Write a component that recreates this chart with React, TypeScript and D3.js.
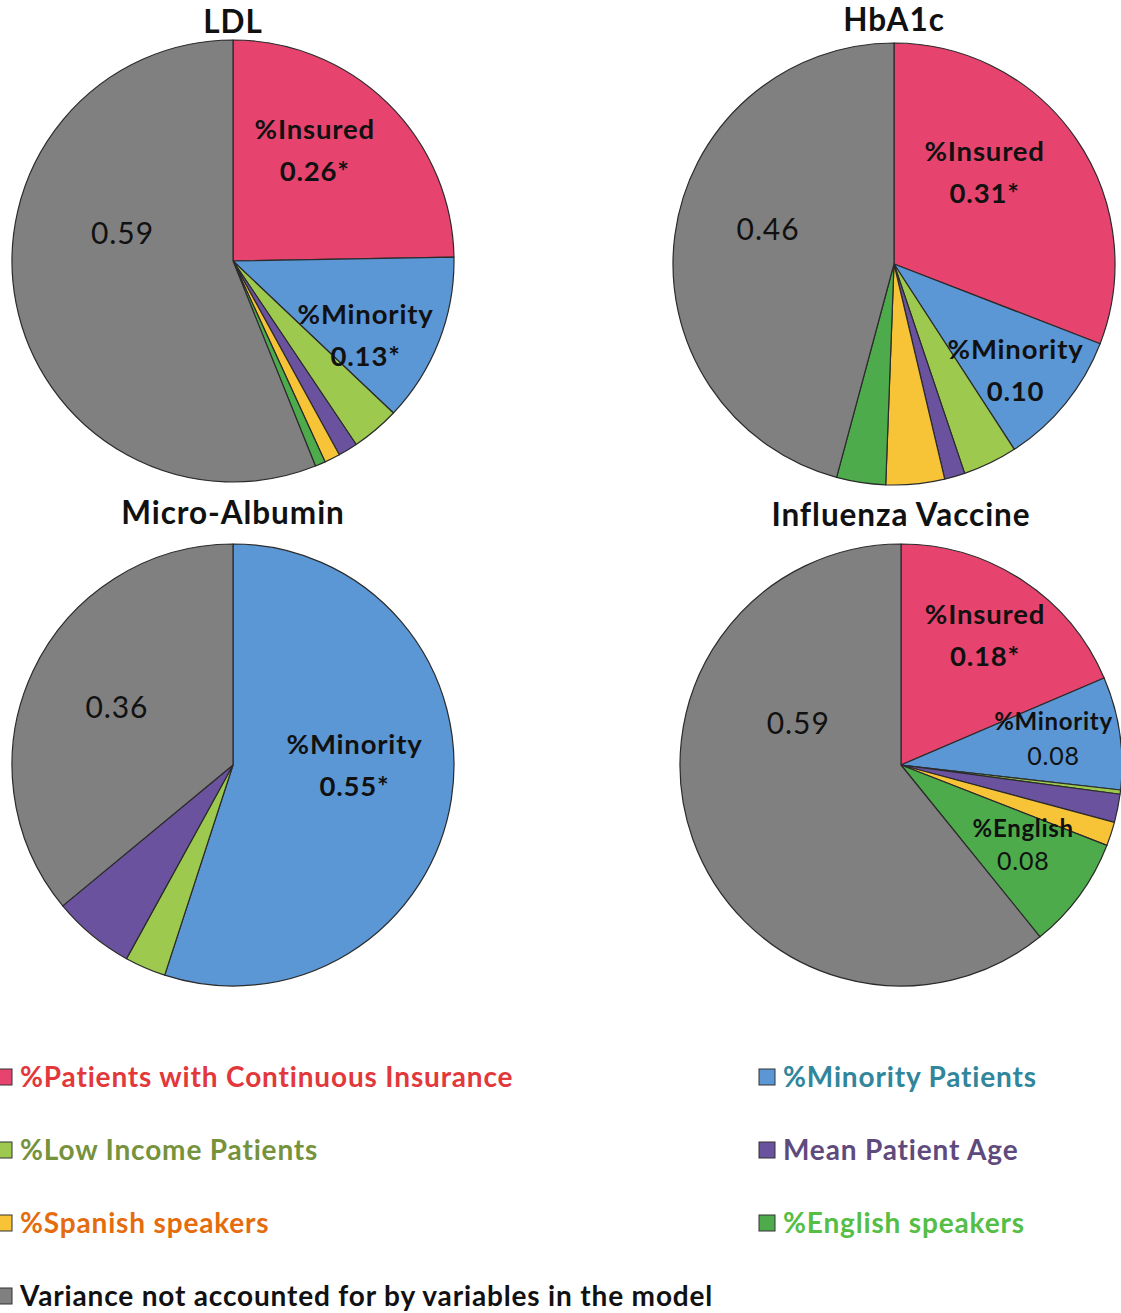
import React from "react";
import * as d3 from "d3";

// Variables in the model (legend order, also slice order clockwise from 12 o'clock)
const categories = [
  "%Patients with Continuous Insurance",
  "%Minority Patients",
  "%Low Income Patients",
  "Mean Patient Age",
  "%Spanish speakers",
  "%English speakers",
  "Variance not accounted for by variables in the model",
];

// Share of variance for each outcome, aligned with `categories`
const ldlValues = [0.26, 0.13, 0.037, 0.015, 0.012, 0.008, 0.59];
const hba1cValues = [0.31, 0.1, 0.04, 0.015, 0.043, 0.036, 0.46];
const microAlbuminValues = [0, 0.55, 0.03, 0.06, 0, 0, 0.36];
const influenzaValues = [0.18, 0.08, 0.003, 0.02, 0.017, 0.08, 0.59];

const chartTitles = ["LDL", "HbA1c", "Micro-Albumin", "Influenza Vaccine"];

const sliceColors = ["#E6446E", "#5B97D5", "#9DC94E", "#6A529E", "#F8C437", "#4DAB4C", "#808080"];
const legendTextColors = ["#E2383C", "#31869C", "#76923C", "#5E4A7C", "#E46C0D", "#55BE45", "#111111"];

// Printed slice labels: short name + value, placed relative to the pie centre (in radii)
type SliceLabel = {
  index: number;
  name?: string;
  text: string;
  dx: number;
  dy: number;
  nameSize?: number;
  valueSize?: number;
  valueWeight?: number;
  gap?: number;
};

const ldlLabels: SliceLabel[] = [
  { index: 0, name: "%Insured", text: "0.26*", dx: 0.37, dy: -0.5 },
  { index: 1, name: "%Minority", text: "0.13*", dx: 0.6, dy: 0.335 },
  { index: 6, text: "0.59", dx: -0.5, dy: -0.125 },
];
const hba1cLabels: SliceLabel[] = [
  { index: 0, name: "%Insured", text: "0.31*", dx: 0.41, dy: -0.415 },
  { index: 1, name: "%Minority", text: "0.10", dx: 0.55, dy: 0.48 },
  { index: 6, text: "0.46", dx: -0.57, dy: -0.155 },
];
const microAlbuminLabels: SliceLabel[] = [
  { index: 1, name: "%Minority", text: "0.55*", dx: 0.55, dy: 0.0 },
  { index: 6, text: "0.36", dx: -0.525, dy: -0.26 },
];
const influenzaLabels: SliceLabel[] = [
  { index: 0, name: "%Insured", text: "0.18*", dx: 0.38, dy: -0.585 },
  { index: 1, name: "%Minority", text: "0.08", dx: 0.69, dy: -0.118, nameSize: 24, valueSize: 25, valueWeight: 400, gap: 17 },
  { index: 5, name: "%English", text: "0.08", dx: 0.553, dy: 0.362, nameSize: 24, valueSize: 25, valueWeight: 400, gap: 16 },
  { index: 6, text: "0.59", dx: -0.465, dy: -0.19 },
];

const FONT = "Lato, 'Open Sans', sans-serif";
const W = 1121;
const H = 1313;
const R = 221;
const SPACING = 0.03; // letter spacing, in em

const panels = [
  { title: chartTitles[0], values: ldlValues, labels: ldlLabels, cx: 233, cy: 261, titleY: 33 },
  { title: chartTitles[1], values: hba1cValues, labels: hba1cLabels, cx: 894, cy: 264, titleY: 31 },
  { title: chartTitles[2], values: microAlbuminValues, labels: microAlbuminLabels, cx: 233, cy: 765, titleY: 524 },
  { title: chartTitles[3], values: influenzaValues, labels: influenzaLabels, cx: 901, cy: 765, titleY: 526 },
];

const pieGen = d3
  .pie<number>()
  .sort(null)
  .value((d) => d);

const arcGen = d3.arc<d3.PieArcDatum<number>>().innerRadius(0).outerRadius(R);

function Label({ x, y, size, weight, children, anchor = "middle", fill = "#111" }: any) {
  return (
    <text
      x={x}
      y={y}
      dy="0.35em"
      textAnchor={anchor}
      fontFamily={FONT}
      fontWeight={weight}
      fontSize={size}
      letterSpacing={size * SPACING}
      fill={fill}
    >
      {children}
    </text>
  );
}

function Pie({ panel }: { panel: (typeof panels)[number] }) {
  const arcs = pieGen(panel.values);
  return (
    <g>
      <text
        x={panel.cx}
        y={panel.titleY}
        textAnchor="middle"
        fontFamily={FONT}
        fontWeight={700}
        fontSize={31.5}
        letterSpacing={31.5 * SPACING}
        fill="#111"
      >
        {panel.title}
      </text>
      <g transform={`translate(${panel.cx},${panel.cy})`}>
        {arcs.map((a, i) =>
          a.value > 0 ? (
            <path
              key={i}
              d={arcGen(a) || ""}
              fill={sliceColors[i]}
              stroke="#2b2b2b"
              strokeWidth={1.2}
              strokeLinejoin="round"
            />
          ) : null
        )}
        {panel.labels.map((lab, j) => {
          const x = lab.dx * R;
          const y = lab.dy * R;
          if (!lab.name) {
            return (
              <Label key={j} x={x} y={y} size={30} weight={400}>
                {lab.text}
              </Label>
            );
          }
          const gap = lab.gap ?? 21;
          return (
            <g key={j}>
              <Label x={x} y={y - gap} size={lab.nameSize ?? 27.5} weight={700}>
                {lab.name}
              </Label>
              <Label x={x} y={y + gap} size={lab.valueSize ?? 27.5} weight={lab.valueWeight ?? 700}>
                {lab.text}
              </Label>
            </g>
          );
        })}
      </g>
    </g>
  );
}

// Legend: two columns, left holds items 0,2,4,6 and right holds 1,3,5
const legendRows = [1077, 1150, 1223, 1296];

function Legend() {
  return (
    <g>
      {categories.map((c, i) => {
        const col = i % 2;
        const row = Math.floor(i / 2);
        const sx = col === 0 ? -4 : 759;
        const y = legendRows[row];
        return (
          <g key={c}>
            <rect x={sx} y={y - 8} width={16} height={16} fill={sliceColors[i]} stroke="#333" strokeWidth={1} />
            <Label x={sx + 24} y={y} size={28} weight={700} anchor="start" fill={legendTextColors[i]}>
              {c}
            </Label>
          </g>
        );
      })}
    </g>
  );
}

export default function App() {
  return (
    <svg
      width={W}
      height={H}
      viewBox={`0 0 ${W} ${H}`}
      style={{ position: "absolute", left: 0, top: 0, background: "#fff" }}
    >
      <rect width={W} height={H} fill="#fff" />
      {panels.map((p) => (
        <Pie key={p.title} panel={p} />
      ))}
      <Legend />
    </svg>
  );
}
